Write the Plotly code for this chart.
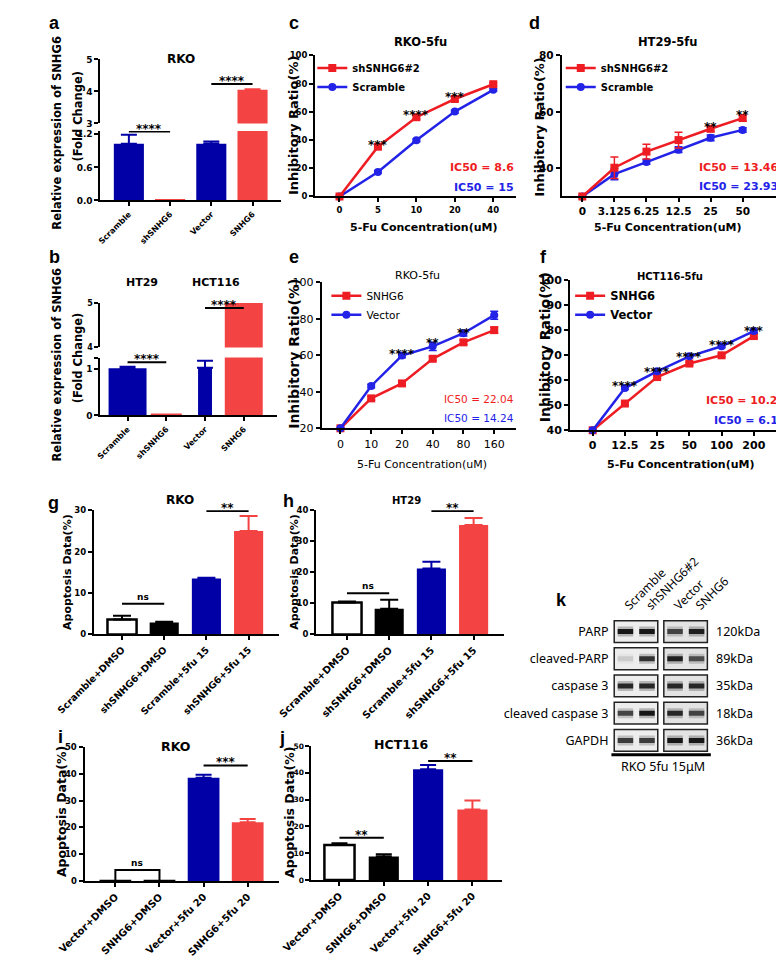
import plotly.graph_objects as go

W, H = 784, 959

BAR_BLUE = "#0000A6"
BAR_RED = "#F44343"
LN_RED = "#EE1D23"
LN_BLUE = "#2323E8"

# ---------------- data ----------------
# a
a_title = "RKO"
a_cats = ["Scramble", "shSNHG6", "Vector", "SNHG6"]
a_vals = [1.03, 0.02, 1.03, 4.05]
a_err = [0.16, 0.0, 0.04, 0.02]
a_sig = [[0, 1, 1.25, "****"], [2, 3, 4.23, "****"]]

# b
b_groups = ["HT29", "HCT116"]
b_cats = ["Scramble", "shSNHG6", "Vector", "SNHG6"]
b_vals = [1.02, 0.04, 1.03, 5.0]
b_err = [0.03, 0.0, 0.15, 0.0]
b_sig = [[0, 1, 1.15, "****"], [2, 3, 4.89, "****"]]

# c
c_title = "RKO-5fu"
c_conc = ["0", "5", "10", "20", "40"]
c_names = ["shSNHG6#2", "Scramble"]
c_red = [0, 35.3, 56.2, 69.1, 79.6]
c_red_err = [0, 1.5, 1.2, 1.2, 1.0]
c_blue = [0, 17.4, 39.8, 60.2, 75.6]
c_blue_err = [0, 1.0, 1.0, 1.0, 1.0]
c_stars = ["", "***", "****", "***", ""]
c_star_y = [0, 38.5, 60.0, 72.9, 0]
c_ic50 = ["IC50 = 8.6", "IC50 = 15"]

# d
d_title = "HT29-5fu"
d_conc = ["0", "3.125", "6.25", "12.5", "25", "50"]
d_names = ["shSNHG6#2", "Scramble"]
d_red = [30, 40.2, 45.9, 50.0, 54.0, 57.8]
d_red_err = [0, 3.8, 2.6, 2.8, 1.0, 1.0]
d_blue = [30, 37.9, 42.2, 46.6, 50.8, 53.6]
d_blue_err = [0, 2.0, 0.8, 1.0, 1.0, 0.8]
d_stars = ["", "", "", "", "**", "**"]
d_star_y = [0, 0, 0, 0, 55.8, 59.8]
d_ic50 = ["IC50 = 13.46", "IC50 = 23.93"]

# e
e_title = "RKO-5fu"
e_conc = ["0", "10", "20", "40", "80", "160"]
e_names = ["SNHG6", "Vector"]
e_red = [20, 36.4, 44.6, 58.1, 67.1, 73.8]
e_red_err = [0, 1.0, 1.0, 1.0, 1.2, 1.6]
e_blue = [20, 43.2, 59.9, 64.9, 72.1, 82.0]
e_blue_err = [0, 1.0, 1.2, 2.2, 1.5, 2.2]
e_stars = ["", "", "****", "**", "**", ""]
e_star_y = [0, 0, 62.5, 68.5, 74.0, 0]
e_ic50 = ["IC50 = 22.04", "IC50 = 14.24"]

# f
f_title = "HCT116-5fu"
f_conc = ["0", "12.5", "25", "50", "100", "200"]
f_names = ["SNHG6", "Vector"]
f_red = [40, 50.7, 61.3, 66.7, 70.0, 77.7]
f_red_err = [0, 0.6, 0.6, 0.6, 0.6, 0.8]
f_blue = [40, 56.9, 63.6, 69.6, 73.6, 79.7]
f_blue_err = [0, 0.6, 0.6, 0.6, 0.6, 0.8]
f_stars = ["", "****", "****", "****", "****", "***"]
f_star_y = [0, 58.9, 64.4, 70.4, 75.3, 81.1]
f_ic50 = ["IC50 = 10.2", "IC50 = 6.1"]

# g
g_title = "RKO"
g_cats = ["Scramble+DMSO", "shSNHG6+DMSO", "Scramble+5fu 15", "shSNHG6+5fu 15"]
g_vals = [3.6, 2.9, 13.5, 25.0]
g_err = [0.9, 0.2, 0.2, 3.6]
g_sig = [[0, 1, 7.4, "ns"], [2, 3, 29.8, "**"]]

# h
h_title = "HT29"
h_cats = ["Scramble+DMSO", "shSNHG6+DMSO", "Scramble+5fu 15", "shSNHG6+5fu 15"]
h_vals = [10.3, 8.3, 21.2, 35.2]
h_err = [0.3, 2.9, 2.2, 2.3]
h_sig = [[0, 1, 13.3, "ns"], [2, 3, 39.7, "**"]]

# i
i_title = "RKO"
i_cats = ["Vector+DMSO", "SNHG6+DMSO", "Vector+5fu 20", "SNHG6+5fu 20"]
i_vals = [0.0, 0.5, 38.5, 21.9]
i_err = [0.0, 0.0, 1.1, 1.2]
i_sig = [[0, 1, 4.1, "ns"], [2, 3, 43.1, "***"]]

# j
j_title = "HCT116"
j_cats = ["Vector+DMSO", "SNHG6+DMSO", "Vector+5fu 20", "SNHG6+5fu 20"]
j_vals = [13.1, 8.8, 41.3, 26.3]
j_err = [0.6, 0.8, 1.6, 3.4]
j_sig = [[0, 1, 15.8, "**"], [2, 3, 44.4, "**"]]

# k (western blot)
k_lanes = ["Scramble", "shSNHG6#2", "Vector", "SNHG6"]
k_rows = ["PARP", "cleaved-PARP", "caspase 3", "cleaved caspase 3", "GAPDH"]
k_kda = ["120kDa", "89kDa", "35kDa", "18kDa", "36kDa"]
k_band = [[0.95, 0.95, 0.70, 0.90],
          [0.12, 0.80, 0.90, 0.65],
          [0.85, 0.85, 0.85, 0.85],
          [0.70, 0.95, 0.85, 0.70],
          [0.75, 0.75, 0.95, 0.95]]
k_caption = "RKO 5fu 15μM"

# ---------------- helpers ----------------
fig = go.Figure()
lay = dict(width=W, height=H, margin=dict(l=0, r=0, t=0, b=0),
           paper_bgcolor="white", plot_bgcolor="white", showlegend=True,
           barmode="overlay")
annotations = []
shapes = []


def xk(i): return "xaxis" if i == 1 else f"xaxis{i}"
def yk(i): return "yaxis" if i == 1 else f"yaxis{i}"
def xr(i): return "x" if i == 1 else f"x{i}"
def yr(i): return "y" if i == 1 else f"y{i}"
def dom_x(l, r): return [l / W, r / W]
def dom_y(top, bot): return [1 - bot / H, 1 - top / H]


def font(size, bold=True, family="DejaVu Sans", color="black"):
    return dict(family=family, size=size, color=color, weight="bold" if bold else "normal")


def base_axis(tsize, bold=True):
    return dict(showline=True, linecolor="black", linewidth=2, ticks="outside",
                ticklen=4, tickwidth=2, tickcolor="black", showgrid=False,
                zeroline=False, fixedrange=True, tickfont=font(tsize, bold))


def text(x, y, s, size, bold=True, family="DejaVu Sans", color="black", angle=0,
         xanchor="center", yanchor="middle", xref="paper", yref="paper", yshift=0):
    if xref == "paper":
        x = x / W
    if yref == "paper":
        y = 1 - y / H
    annotations.append(dict(x=x, y=y, xref=xref, yref=yref, text=s, showarrow=False,
                            font=font(size, bold, family, color), textangle=angle,
                            xanchor=xanchor, yanchor=yanchor, yshift=yshift))


def bars(xi, yi, vals, err, fills, lines, width, capw=8):
    for k, v in enumerate(vals):
        w = width[k] if isinstance(width, list) else width
        fig.add_trace(go.Bar(
            x=[k], y=[v], width=w, xaxis=xr(xi), yaxis=yr(yi),
            marker=dict(color=fills[k],
                        line=dict(color=lines[k], width=2.5 if fills[k] == "white" else 0)),
            error_y=dict(type="data", array=[err[k]], arrayminus=[0], symmetric=False,
                         color=lines[k], thickness=2, width=capw, visible=err[k] > 0),
            showlegend=False, hoverinfo="skip"))


def sig(xi, yi, items, star_size=12, ns_size=9, bracket=False):
    for a, b, lvl, lab in items:
        if bracket and lab == "ns":
            shapes.append(dict(type="path", xref=xr(xi), yref=yr(yi),
                               path=f"M {a},0 L {a},{lvl} L {b},{lvl} L {b},0",
                               line=dict(color="black", width=2)))
        else:
            shapes.append(dict(type="line", xref=xr(xi), yref=yr(yi), x0=a, x1=b,
                               y0=lvl, y1=lvl, line=dict(color="black", width=2)))
        if lab == "ns":
            text((a + b) / 2, lvl, lab, ns_size, xref=xr(xi), yref=yr(yi),
                 yanchor="bottom", yshift=0)
        else:
            text((a + b) / 2, lvl, lab, star_size, xref=xr(xi), yref=yr(yi),
                 yanchor="bottom", yshift=-6)


def curves(xi, yi, red, red_err, blue, blue_err, names, leg, red_on_top=True):
    x = list(range(len(red)))
    r = go.Scatter(x=x, y=red, mode="lines+markers", name=names[0], legend=leg, legendrank=1,
                   xaxis=xr(xi), yaxis=yr(yi), line=dict(color=LN_RED, width=2.5),
                   marker=dict(symbol="square", size=8, color=LN_RED),
                   error_y=dict(type="data", array=red_err, color=LN_RED, thickness=1.5, width=4),
                   cliponaxis=False, hoverinfo="skip")
    b = go.Scatter(x=x, y=blue, mode="lines+markers", name=names[1], legend=leg, legendrank=2,
                   xaxis=xr(xi), yaxis=yr(yi), line=dict(color=LN_BLUE, width=2.5),
                   marker=dict(symbol="circle", size=8, color=LN_BLUE),
                   error_y=dict(type="data", array=blue_err, color=LN_BLUE, thickness=1.5, width=4),
                   cliponaxis=False, hoverinfo="skip")
    if red_on_top:
        fig.add_trace(b); fig.add_trace(r)
    else:
        fig.add_trace(r); fig.add_trace(b)


def stars(xi, yi, labs, ys, size=12):
    for k, (lab, yv) in enumerate(zip(labs, ys)):
        if lab:
            text(k, yv, lab, size, xref=xr(xi), yref=yr(yi), yanchor="middle", yshift=-3)


def legend_box(x_px, y_px, size, bold=True):
    return dict(x=x_px / W, y=1 - y_px / H, xanchor="left", yanchor="top",
                bgcolor="rgba(0,0,0,0)", font=font(size, bold), itemwidth=30,
                tracegroupgap=0, traceorder="normal")


# ---------------- panel a ----------------
a_fill = [BAR_BLUE, BAR_RED, BAR_BLUE, BAR_RED]
lay[xk(1)] = {**base_axis(8), "domain": dom_x(57, 250), "range": [-0.69, 3.70], "anchor": "y",
              "tickvals": list(range(4)), "ticktext": a_cats, "tickangle": -45}
lay[yk(1)] = {**base_axis(9), "domain": dom_y(118.6, 189), "range": [0, 1.26], "anchor": "x",
              "tickvals": [0, 0.6, 1.2], "ticktext": ["0.0", "0.6", "1.2"]}
lay[yk(2)] = {**base_axis(9), "domain": dom_y(46, 111), "range": [3, 5], "anchor": "x",
              "tickvals": [3, 4, 5]}
bars(1, 1, a_vals, a_err, a_fill, a_fill, 0.73)
bars(1, 2, a_vals, a_err, a_fill, a_fill, 0.73)
sig(1, 1, [s for s in a_sig if s[2] < 2])
sig(1, 2, [s for s in a_sig if s[2] >= 2])
text(143, 46, a_title, 12)
text(11, 120, "Relative expression of SNHG6", 11.5, angle=-90)
text(33, 103, "(Fold Change)", 11.5, angle=-90)

# ---------------- panel b ----------------
lay[xk(2)] = {**base_axis(8), "domain": dom_x(57, 245), "range": [-0.70, 3.85], "anchor": "y3",
              "tickvals": list(range(4)), "ticktext": b_cats, "tickangle": -45}
lay[yk(3)] = {**base_axis(9), "domain": dom_y(348.3, 407), "range": [0, 1.25], "anchor": "x2",
              "tickvals": [0, 1, 1.25], "ticktext": ["0", "1", ""]}
lay[yk(4)] = {**base_axis(8), "domain": dom_y(293, 338), "range": [4, 5], "anchor": "x2",
              "tickvals": [4, 5]}
b_width = [0.98, 0.8, 0.36, 0.98]
bars(2, 3, b_vals, b_err, a_fill, a_fill, b_width)
bars(2, 4, b_vals, b_err, a_fill, a_fill, b_width)
sig(2, 3, [s for s in b_sig if s[2] < 2])
sig(2, 4, [s for s in b_sig if s[2] >= 2])
text(101, 272, b_groups[0], 11)
text(180, 272, b_groups[1], 11)
text(11, 355, "Relative expression of SNHG6", 11.5, angle=-90)
text(33, 348, "(Fold Change)", 11.5, angle=-90)

# ---------------- panel c ----------------
lay[xk(3)] = {**base_axis(8.5), "domain": dom_x(286, 500), "range": [-0.634, 4.585], "anchor": "y5",
              "tickvals": list(range(len(c_conc))), "ticktext": c_conc}
lay[yk(5)] = {**base_axis(8.5), "domain": dom_y(42, 185), "range": [0, 100], "anchor": "x3",
              "tickvals": [0, 20, 40, 60, 80, 100]}
curves(3, 5, c_red, c_red_err, c_blue, c_blue_err, c_names, "legend")
stars(3, 5, c_stars, c_star_y)
lay["legend"] = legend_box(283, 40, 10)
text(398, 28, c_title, 11.5)
text(500, 156, c_ic50[0], 11, color=LN_RED, xanchor="right")
text(500, 176, c_ic50[1], 11, color=LN_BLUE, xanchor="right")
text(402, 216, "5-Fu Concentration(uM)", 11)
text(263, 113, "Inhibitory Ratio(%)", 13, angle=-90)

# ---------------- panel d ----------------
lay[xk(4)] = {**base_axis(10.5), "domain": dom_x(549, 778), "range": [-0.643, 6.05], "anchor": "y6",
              "tickvals": list(range(len(d_conc))), "ticktext": d_conc}
lay[yk(6)] = {**base_axis(10.5), "domain": dom_y(42, 185), "range": [30, 80], "anchor": "x4",
              "tickvals": [40, 60, 80]}
curves(4, 6, d_red, d_red_err, d_blue, d_blue_err, d_names, "legend2")
stars(4, 6, d_stars, d_star_y)
lay["legend2"] = legend_box(548, 40, 10)
text(662, 28, d_title, 11.5)
text(782, 156, d_ic50[0], 11, color=LN_RED, xanchor="right")
text(782, 175, d_ic50[1], 11, color=LN_BLUE, xanchor="right")
text(662, 216, "5-Fu Concentration(uM)", 11)
text(525, 115, "Inhibitory Ratio(%)", 13, angle=-90)

# ---------------- panel e ----------------
lay[xk(5)] = {**base_axis(11, bold=False), "domain": dom_x(293, 500), "range": [-0.61, 5.70], "anchor": "y7",
              "tickvals": list(range(len(e_conc))), "ticktext": e_conc}
lay[yk(7)] = {**base_axis(11, bold=False), "domain": dom_y(272, 420), "range": [20, 100], "anchor": "x5",
              "tickvals": [20, 40, 60, 80, 100]}
curves(5, 7, e_red, e_red_err, e_blue, e_blue_err, e_names, "legend3", red_on_top=False)
stars(5, 7, e_stars, e_star_y)
lay["legend3"] = legend_box(298, 271, 10.5, bold=False)
text(395, 265, e_title, 11, bold=False)
text(500, 390, e_ic50[0], 10.5, bold=False, color=LN_RED, xanchor="right")
text(500, 410, e_ic50[1], 10.5, bold=False, color=LN_BLUE, xanchor="right")
text(400, 457, "5-Fu Concentration(uM)", 11, bold=False)
text(264, 345, "Inhibitory Ratio(%)", 14, angle=-90)

# ---------------- panel f ----------------
lay[xk(6)] = {**base_axis(11), "domain": dom_x(558, 778), "range": [-0.70, 5.70], "anchor": "y8",
              "tickvals": list(range(len(f_conc))), "ticktext": f_conc}
lay[yk(8)] = {**base_axis(11), "domain": dom_y(270, 422), "range": [40, 100], "anchor": "x6",
              "tickvals": [40, 50, 60, 70, 80, 90, 100]}
curves(6, 8, f_red, f_red_err, f_blue, f_blue_err, f_names, "legend4", red_on_top=False)
stars(6, 8, f_stars, f_star_y)
lay["legend4"] = legend_box(558, 271, 11.5)
text(665, 266, f_title, 10)
text(782, 392, f_ic50[0], 11, color=LN_RED, xanchor="right")
text(782, 412, f_ic50[1], 11, color=LN_BLUE, xanchor="right")
text(676, 457, "5-Fu Concentration(uM)", 11)
text(532, 338, "Inhibitory Ratio(%)", 14, angle=-90)

# ---------------- panels g-j ----------------
gj_fill = ["white", "black", BAR_BLUE, BAR_RED]
gj_line = ["black", "black", BAR_BLUE, BAR_RED]

lay[xk(7)] = {**base_axis(9.5), "domain": dom_x(50, 247), "range": [-0.667, 3.71], "anchor": "y9",
              "tickvals": list(range(4)), "ticktext": g_cats, "tickangle": -45}
lay[yk(9)] = {**base_axis(8.5), "domain": dom_y(503, 629), "range": [0, 30], "anchor": "x7",
              "tickvals": [0, 10, 20, 30]}
bars(7, 9, g_vals, g_err, gj_fill, gj_line, 0.69, capw=9)
sig(7, 9, g_sig)
text(142, 493, g_title, 12)
text(22, 566, "Apoptosis Data(%)", 11, angle=-90)

lay[xk(8)] = {**base_axis(10), "domain": dom_x(287, 487), "range": [-0.733, 3.71], "anchor": "y10",
              "tickvals": list(range(4)), "ticktext": h_cats, "tickangle": -45}
lay[yk(10)] = {**base_axis(8.5), "domain": dom_y(503, 629), "range": [0, 40], "anchor": "x8",
               "tickvals": [0, 10, 20, 30, 40]}
bars(8, 10, h_vals, h_err, gj_fill, gj_line, 0.69, capw=9)
sig(8, 10, h_sig)
text(383, 493, h_title, 10)
text(264, 566, "Apoptosis Data(%)", 11, angle=-90)

lay[xk(9)] = {**base_axis(10), "domain": dom_x(40, 247), "range": [-0.70, 3.70], "anchor": "y11",
              "tickvals": list(range(4)), "ticktext": i_cats, "tickangle": -45}
lay[yk(11)] = {**base_axis(8.5), "domain": dom_y(743, 879), "range": [0, 50], "anchor": "x9",
               "tickvals": [0, 10, 20, 30, 40, 50]}
bars(9, 11, i_vals, i_err, gj_fill, gj_line, 0.72, capw=8)
sig(9, 11, i_sig, bracket=True)
text(137, 743, i_title, 12.5)
text(15, 809, "Apoptosis Data(%)", 12.5, angle=-90)

lay[xk(10)] = {**base_axis(10), "domain": dom_x(282, 485), "range": [-0.634, 3.66], "anchor": "y12",
               "tickvals": list(range(4)), "ticktext": j_cats, "tickangle": -45}
lay[yk(12)] = {**base_axis(7.5), "domain": dom_y(742, 878), "range": [0, 50], "anchor": "x10",
               "tickvals": [0, 10, 20, 30, 40, 50]}
bars(10, 12, j_vals, j_err, gj_fill, gj_line, 0.68, capw=8)
sig(10, 12, j_sig)
text(378, 741, j_title, 12.5)
text(258, 809, "Apoptosis Data(%)", 12.5, angle=-90)

# ---------------- panel k ----------------
k_pos = [0, 1, 2.3, 3.3]
lay[xk(11)] = dict(domain=dom_x(600, 720), range=[-0.739, 4.478], anchor="y13", side="top",
                   showline=False, ticks="", showgrid=False, zeroline=False, fixedrange=True,
                   tickvals=k_pos, ticktext=k_lanes, tickangle=-45,
                   tickfont=dict(family="Noto Sans", size=12, color="black"))
lay[yk(13)] = dict(domain=dom_y(610, 770), range=[5.217, -0.58], anchor="x11",
                   showline=False, ticks="", showgrid=False, zeroline=False, fixedrange=True,
                   tickvals=list(range(len(k_rows))), ticktext=k_rows,
                   tickfont=dict(family="Noto Sans", size=12.5, color="black"))
for r, row in enumerate(k_band):
    for (l0, l1), bg in (((0, 1), "#ededed"), ((2, 3), "#e3e3e3")):
        shapes.append(dict(type="rect", xref="x11", yref="y13", layer="below",
                           x0=k_pos[l0] - 0.52, x1=k_pos[l1] + 0.5, y0=r - 0.4, y1=r + 0.4,
                           fillcolor=bg, line=dict(color="#222", width=1.5)))
    for l, inten in enumerate(row):
        xs = [k_pos[l] - 0.36, k_pos[l] + 0.36]
        fig.add_trace(go.Scatter(x=xs, y=[r, r], mode="lines", xaxis="x11", yaxis="y13",
                                 line=dict(color=f"rgba(60,60,60,{inten * 0.35:.2f})", width=10),
                                 showlegend=False, hoverinfo="skip"))
        fig.add_trace(go.Scatter(x=xs, y=[r, r], mode="lines", xaxis="x11", yaxis="y13",
                                 line=dict(color=f"rgba(15,15,15,{inten:.2f})", width=5),
                                 showlegend=False, hoverinfo="skip"))
    text(4.1, r, k_kda[r], 12.5, bold=False, family="Noto Sans", xref="x11", yref="y13",
         xanchor="left")
shapes.append(dict(type="line", xref="x11", yref="y13", x0=-0.65, x1=3.96, y0=4.53, y1=4.53,
                   line=dict(color="black", width=3)))
text(1.74, 4.95, k_caption, 12.5, bold=False, family="Noto Sans", xref="x11", yref="y13")

# ---------------- panel labels ----------------
for lab, (px, py) in {"a": (8, 9), "b": (8, 246), "c": (263, 9), "d": (520, 9),
                      "e": (263, 246), "f": (530, 246), "g": (7, 496), "h": (258, 494),
                      "i": (14, 733), "j": (251, 734), "k": (549, 594)}.items():
    text(px, py, lab, 18, family="Liberation Sans")

lay["annotations"] = annotations
lay["shapes"] = shapes
fig.update_layout(**lay)
fig.write_html("out.html")
